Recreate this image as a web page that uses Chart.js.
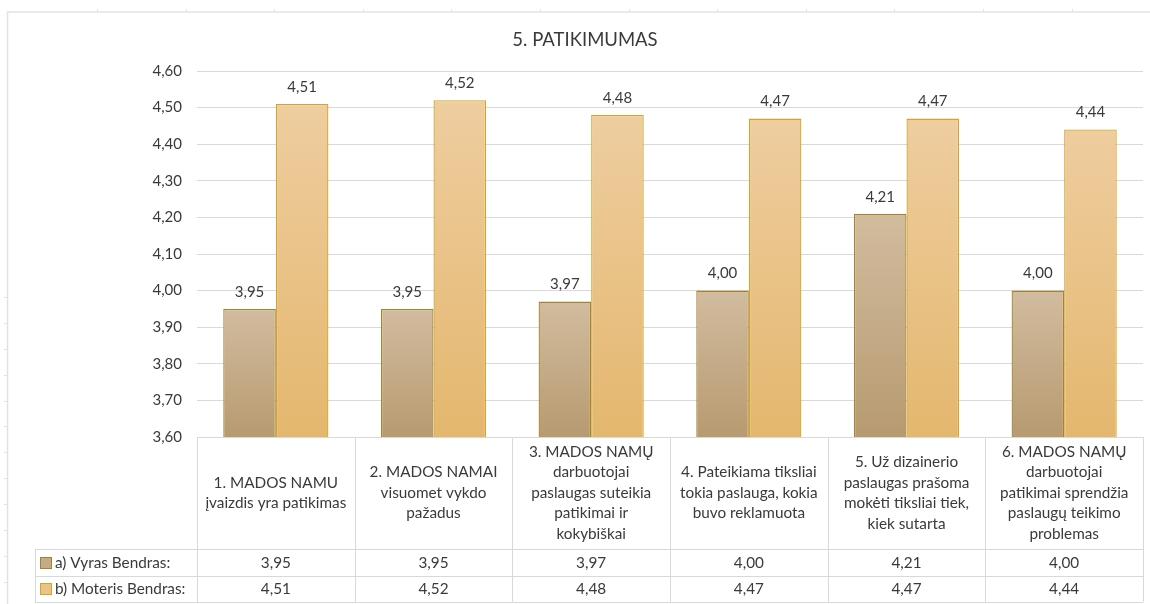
<!DOCTYPE html>
<html lang="lt">
<head>
<meta charset="utf-8">
<title>5. PATIKIMUMAS</title>
<script src="https://cdn.jsdelivr.net/npm/chart.js@4.4.1/dist/chart.umd.min.js"></script>
<style>
  html, body { margin: 0; padding: 0; background: #ffffff; }
  #wrap { width: 1150px; height: 604px; position: relative; }
  canvas { display: block; }
</style>
</head>
<body>
<div id="wrap"><canvas id="chart" width="1150" height="604"></canvas></div>
<script>
// ---- data ----
const chartTitle = '5. PATIKIMUMAS';

const categories = [
  ['1. MADOS NAMU', 'įvaizdis yra patikimas'],
  ['2. MADOS NAMAI', 'visuomet vykdo', 'pažadus'],
  ['3. MADOS NAMŲ', 'darbuotojai', 'paslaugas suteikia', 'patikimai ir', 'kokybiškai'],
  ['4. Pateikiama tiksliai', 'tokia paslauga, kokia', 'buvo reklamuota'],
  ['5. Už dizainerio', 'paslaugas prašoma', 'mokėti tiksliai tiek,', 'kiek sutarta'],
  ['6. MADOS NAMŲ', 'darbuotojai', 'patikimai sprendžia', 'paslaugų teikimo', 'problemas']
];

const seriesNames = ['a) Vyras Bendras:', 'b) Moteris Bendras:'];
const vyrasValues = [3.95, 3.95, 3.97, 4.00, 4.21, 4.00];
const moterisValues = [4.51, 4.52, 4.48, 4.47, 4.47, 4.44];

const yMin = 3.6;
const yMax = 4.6;
const yStep = 0.1;

// ---- styling ----
const FONT = 'Lato, "Open Sans", sans-serif';
const TEXT = '#3a3a3a';
const GRID = '#d9d9d9';
const palettes = [
  { top: '#d2bc9f', bottom: '#b79a70', border: '#a5852c', swatch: '#c4ab88' },
  { top: '#eecd9f', bottom: '#e4b76e', border: '#d6a32a', swatch: '#e9c387' }
];

const fmt = v => v.toFixed(2).replace('.', ',');

// vertical gradient running from each bar's top down to the axis
function barFill(p) {
  return (ctx) => {
    const chart = ctx.chart;
    const area = chart.chartArea;
    if (!area || ctx.type !== 'data' || !chart.scales.y) return p.bottom;
    const yTop = chart.scales.y.getPixelForValue(ctx.raw);
    const g = chart.ctx.createLinearGradient(0, yTop, 0, area.bottom);
    g.addColorStop(0, p.top);
    g.addColorStop(1, p.bottom);
    return g;
  };
}

// sheet frame, title
const framePlugin = {
  id: 'frame',
  beforeDraw(chart) {
    const ctx = chart.ctx;
    const W = chart.width, H = chart.height;
    ctx.save();
    ctx.fillStyle = '#ffffff';
    ctx.fillRect(0, 0, W, H);
    ctx.strokeStyle = '#e3e3e3';
    ctx.lineWidth = 1.5;
    ctx.beginPath();
    ctx.moveTo(7, 12); ctx.lineTo(W, 12);
    ctx.moveTo(7.5, 12); ctx.lineTo(7.5, H);
    ctx.stroke();
    ctx.lineWidth = 1;
    ctx.beginPath();
    for (let x = 97; x < W; x += 88.6) {
      const px = Math.round(x) + 0.5;
      ctx.moveTo(px, 9); ctx.lineTo(px, 12);
    }
    for (let y = 297; y < H; y += 25.9) {
      const py = Math.round(y) + 0.5;
      ctx.moveTo(4, py); ctx.lineTo(7, py);
    }
    ctx.stroke();

    ctx.fillStyle = TEXT;
    ctx.font = '18.5px ' + FONT;
    ctx.textAlign = 'center';
    ctx.textBaseline = 'middle';
    ctx.fillText(chartTitle, 585, 40);
    ctx.restore();
  }
};

// value labels above the bars
const valueLabels = {
  id: 'valueLabels',
  afterDatasetsDraw(chart) {
    const ctx = chart.ctx;
    ctx.save();
    ctx.fillStyle = TEXT;
    ctx.font = '15px ' + FONT;
    ctx.textAlign = 'center';
    ctx.textBaseline = 'middle';
    chart.data.datasets.forEach((ds, di) => {
      chart.getDatasetMeta(di).data.forEach((bar, i) => {
        ctx.fillText(fmt(ds.data[i]), bar.x, bar.y - 17);
      });
    });
    ctx.restore();
  }
};

// data table under the plot
const dataTable = {
  id: 'dataTable',
  afterDraw(chart) {
    const ctx = chart.ctx;
    const a = chart.chartArea;
    const x = chart.scales.x;
    const n = chart.data.labels.length;
    const step = x.getPixelForTick(1) - x.getPixelForTick(0);
    const headTop = a.bottom;
    const headBottom = headTop + 112;
    const rowH = 26.5;
    const legendLeft = 35;
    const crisp = v => Math.round(v) + 0.5;

    ctx.save();
    ctx.strokeStyle = GRID;
    ctx.lineWidth = 1;
    ctx.beginPath();
    ctx.moveTo(a.left, crisp(headTop)); ctx.lineTo(a.right, crisp(headTop));
    for (let r = 0; r <= 2; r++) {
      const y = crisp(headBottom + r * rowH);
      ctx.moveTo(legendLeft, y); ctx.lineTo(a.right, y);
    }
    for (let i = 0; i <= n; i++) {
      const xb = crisp(x.getPixelForTick(Math.min(i, n - 1)) + (i === n ? step / 2 : -step / 2));
      ctx.moveTo(xb, headTop); ctx.lineTo(xb, headBottom + 2 * rowH);
    }
    ctx.moveTo(crisp(legendLeft), headBottom); ctx.lineTo(crisp(legendLeft), headBottom + 2 * rowH);
    ctx.stroke();

    ctx.fillStyle = TEXT;
    ctx.textAlign = 'center';
    ctx.textBaseline = 'middle';
    ctx.font = '15.3px ' + FONT;
    const lh = 20.5;
    const mid = (headTop + headBottom) / 2;
    chart.data.labels.forEach((lines, i) => {
      const cx = x.getPixelForTick(i);
      const y0 = mid - (lines.length - 1) * lh / 2;
      lines.forEach((t, k) => ctx.fillText(t, cx, y0 + k * lh));
    });

    chart.data.datasets.forEach((ds, di) => {
      const cy = headBottom + di * rowH + rowH / 2 + 0.5;
      ctx.font = '15.3px ' + FONT;
      ctx.textAlign = 'center';
      ctx.fillStyle = TEXT;
      ds.data.forEach((v, i) => ctx.fillText(fmt(v), x.getPixelForTick(i), cy));
      const p = palettes[di];
      ctx.fillStyle = p.swatch;
      ctx.fillRect(40.5, Math.round(cy) - 5.5, 11, 11);
      ctx.strokeStyle = p.border;
      ctx.strokeRect(40.5, Math.round(cy) - 5.5, 11, 11);
      ctx.fillStyle = TEXT;
      ctx.textAlign = 'left';
      ctx.fillText(ds.label, 55, cy);
    });
    ctx.restore();
  }
};

new Chart(document.getElementById('chart'), {
  type: 'bar',
  data: {
    labels: categories,
    datasets: [
      {
        label: seriesNames[0],
        data: vyrasValues,
        backgroundColor: barFill(palettes[0]),
        borderColor: palettes[0].border,
        borderWidth: 1.3
      },
      {
        label: seriesNames[1],
        data: moterisValues,
        backgroundColor: barFill(palettes[1]),
        borderColor: palettes[1].border,
        borderWidth: 1.3
      }
    ]
  },
  options: {
    responsive: false,
    animation: false,
    devicePixelRatio: 1,
    layout: { padding: { left: 0, right: 7, top: 71, bottom: 167 } },
    datasets: { bar: { categoryPercentage: 0.667, barPercentage: 1.0 } },
    plugins: {
      legend: { display: false },
      title: { display: false },
      tooltip: { enabled: false }
    },
    scales: {
      x: { display: false },
      y: {
        min: yMin,
        max: yMax,
        afterFit(scale) { scale.width = 197; },
        ticks: {
          stepSize: yStep,
          padding: 15,
          color: TEXT,
          font: { family: FONT, size: 15 },
          callback: v => fmt(Number(v))
        },
        grid: { color: GRID, lineWidth: 1, drawTicks: false },
        border: { display: false }
      }
    }
  },
  plugins: [framePlugin, valueLabels, dataTable]
});
</script>
</body>
</html>
